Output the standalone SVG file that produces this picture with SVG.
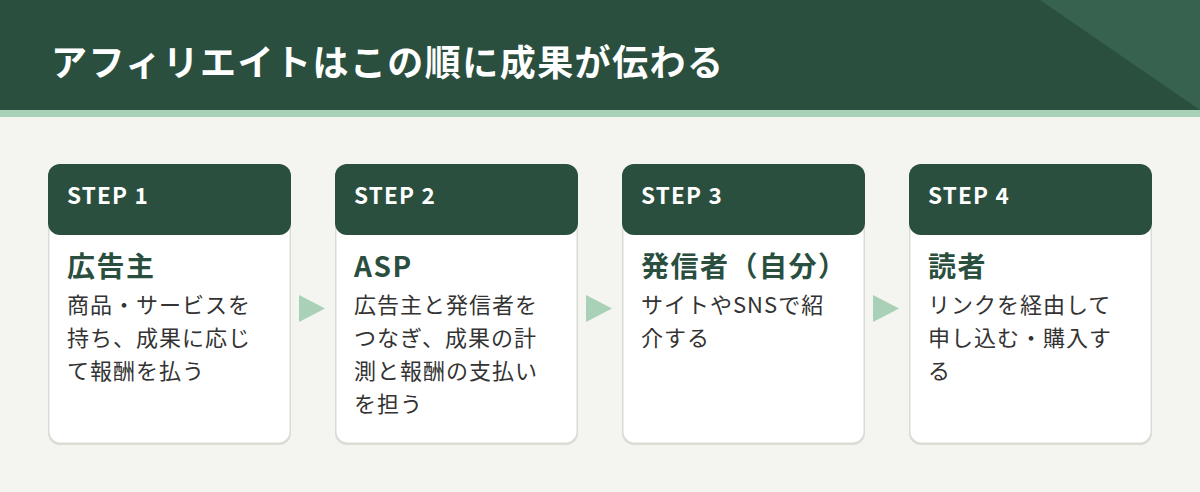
<svg xmlns="http://www.w3.org/2000/svg" width="1200" height="492" viewBox="0 0 1200 492">
<defs>
<style>
text{font-family:"Noto Sans CJK JP","Noto Sans",sans-serif}
.main{font-size:36px;font-weight:700;fill:#ffffff}
.step{font-size:22.5px;font-weight:700;fill:#ffffff;letter-spacing:1.2px}
.ttl{font-size:28px;font-weight:700;fill:#2a4f3f;letter-spacing:1.5px}
.body{font-size:22px;fill:#333333;letter-spacing:1px}
.shadow{fill:#dcdcd6}
.card{fill:#ffffff;stroke:#dcdcd6;stroke-width:1.5}
.head{fill:#2a4f3f}
.arrow{fill:#a8d1b8}
</style>
</defs>
<rect x="0" y="0" width="1200" height="492" fill="#f4f4f0"/>
<g id="header">
<rect x="0" y="0" width="1200" height="110" fill="#2a4f3f"/>
<polygon points="1040,0 1200,0 1200,110" fill="#36624f"/>
<rect x="0" y="110" width="1200" height="7" fill="#a8d1b8"/>
<text class="main" x="51" y="76" textLength="672" lengthAdjust="spacing">アフィリエイトはこの順に成果が伝わる</text>
</g>
<g id="connectors">
<polygon class="arrow" points="299,295 325,308.5 299,322"/>
<polygon class="arrow" points="586,295 612,308.5 586,322"/>
<polygon class="arrow" points="873,295 899,308.5 873,322"/>
</g>
<g id="step1">
<rect class="shadow" x="48" y="166" width="243" height="279" rx="12"/>
<rect class="card" x="48.75" y="164.75" width="241.5" height="278.5" rx="12"/>
<rect class="head" x="48" y="164" width="243" height="71" rx="12"/>
<text class="step" x="67" y="204">STEP 1</text>
<text class="ttl" x="67" y="277">広告主</text>
<text class="body" x="67" y="313">商品・サービスを</text>
<text class="body" x="67" y="346">持ち、成果に応じ</text>
<text class="body" x="67" y="379">て報酬を払う</text>
</g>
<g id="step2">
<rect class="shadow" x="335" y="166" width="243" height="279" rx="12"/>
<rect class="card" x="335.75" y="164.75" width="241.5" height="278.5" rx="12"/>
<rect class="head" x="335" y="164" width="243" height="71" rx="12"/>
<text class="step" x="354" y="204">STEP 2</text>
<text class="ttl" x="354" y="277">ASP</text>
<text class="body" x="354" y="313">広告主と発信者を</text>
<text class="body" x="354" y="346">つなぎ、成果の計</text>
<text class="body" x="354" y="379">測と報酬の支払い</text>
<text class="body" x="354" y="412">を担う</text>
</g>
<g id="step3">
<rect class="shadow" x="622" y="166" width="243" height="279" rx="12"/>
<rect class="card" x="622.75" y="164.75" width="241.5" height="278.5" rx="12"/>
<rect class="head" x="622" y="164" width="243" height="71" rx="12"/>
<text class="step" x="641" y="204">STEP 3</text>
<text class="ttl" x="641" y="277">発信者（自分）</text>
<text class="body" x="641" y="313">サイトやSNSで紹</text>
<text class="body" x="641" y="346">介する</text>
</g>
<g id="step4">
<rect class="shadow" x="909" y="166" width="243" height="279" rx="12"/>
<rect class="card" x="909.75" y="164.75" width="241.5" height="278.5" rx="12"/>
<rect class="head" x="909" y="164" width="243" height="71" rx="12"/>
<text class="step" x="928" y="204">STEP 4</text>
<text class="ttl" x="928" y="277">読者</text>
<text class="body" x="928" y="313">リンクを経由して</text>
<text class="body" x="928" y="346">申し込む・購入す</text>
<text class="body" x="928" y="379">る</text>
</g>
</svg>
